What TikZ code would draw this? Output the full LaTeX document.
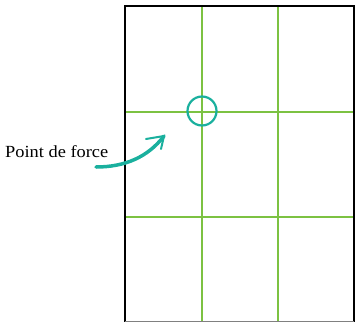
\documentclass[tikz,border=0pt]{standalone}
\usepackage{fontspec}
\setmainfont{Liberation Serif}
\usetikzlibrary{arrows.meta}
\definecolor{gridgreen}{RGB}{124,194,66}
\definecolor{teal1}{RGB}{26,176,158}
\tikzset{
  gridline/.style={gridgreen, line width=2.4pt},
  frameline/.style={black, line width=1.2pt},
}
\begin{document}
\begin{tikzpicture}[x=1pt,y=-1pt]
\useasboundingbox (0,0) rectangle (356,322);
% green grid
\draw[gridline] (202,6) -- (202,322);
\draw[gridline] (278,6) -- (278,322);
\draw[gridline] (125,112) -- (354,112);
\draw[gridline] (125,217) -- (354,217);
% frame
\draw[black, line width=2pt] (125,6) -- (125,322);
\draw[frameline] (124,6) -- (354,6) -- (354,322);
\draw[gray, line width=1pt] (125,321.5) -- (354,321.5);
% circle
\coordinate (pf) at (202,111);
\node[circle, draw=teal1, line width=2.2pt, minimum size=29pt, inner sep=0pt] (ring) at (pf) {};
% label
\node[anchor=base west, inner sep=0pt, font=\fontsize{17}{19}\selectfont, xscale=1.08] (lbl) at (5,157) {Point de force};
\coordinate (a0) at (96,167);
\coordinate (a1) at (164,136);
\draw[teal1, line width=3.5pt, line cap=round] (a0) .. controls (125,167) and (148,157) .. (a1);
\draw[teal1, line width=2pt, line cap=round] (146,139) -- (a1) -- (161,149);
\end{tikzpicture}
\end{document}
